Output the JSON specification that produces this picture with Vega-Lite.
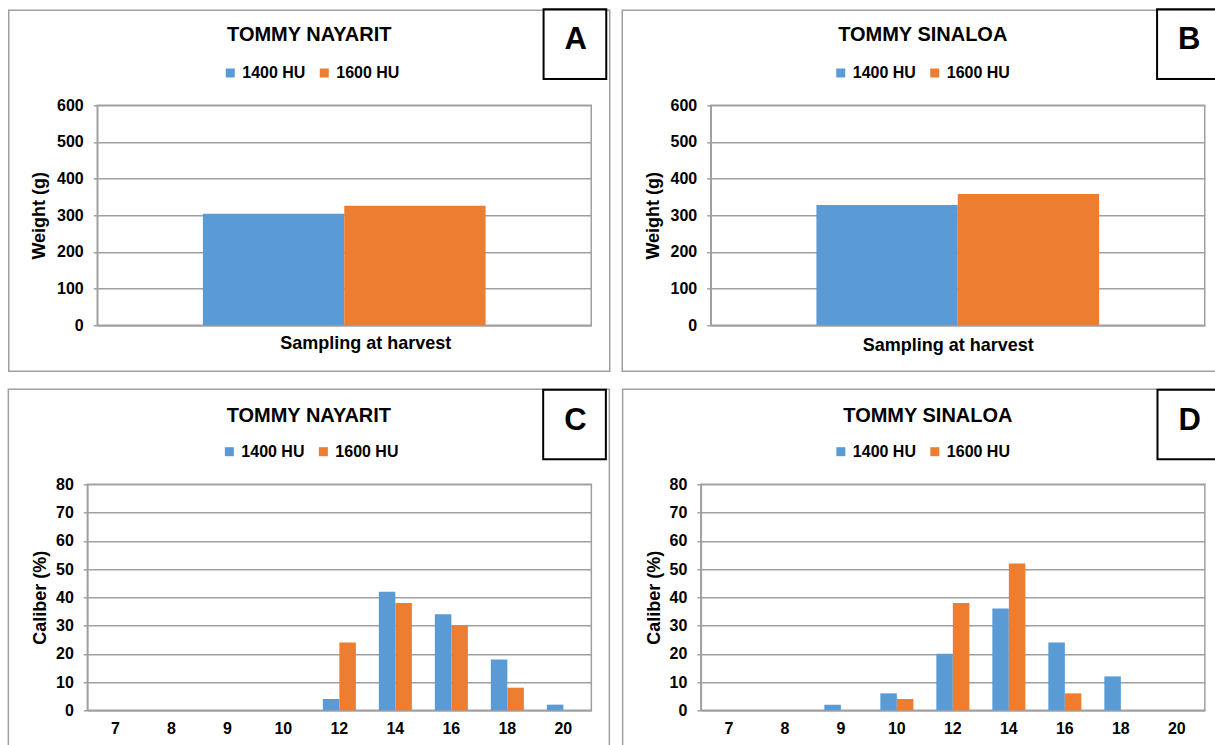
{
  "$schema": "https://vega.github.io/schema/vega-lite/v6.json",
  "padding": {"left": 6, "top": 7.3, "right": 0, "bottom": 0},
  "background": "white",
  "datasets": {
    "weight": [
      {"site": "Nayarit", "HU": "1400 HU", "sampling": "Sampling at harvest", "weight": 304},
      {"site": "Nayarit", "HU": "1600 HU", "sampling": "Sampling at harvest", "weight": 326},
      {"site": "Sinaloa", "HU": "1400 HU", "sampling": "Sampling at harvest", "weight": 328},
      {"site": "Sinaloa", "HU": "1600 HU", "sampling": "Sampling at harvest", "weight": 358}
    ],
    "caliber": [
      {"site": "Nayarit", "HU": "1400 HU", "caliber": 7, "pct": 0},
      {"site": "Nayarit", "HU": "1400 HU", "caliber": 8, "pct": 0},
      {"site": "Nayarit", "HU": "1400 HU", "caliber": 9, "pct": 0},
      {"site": "Nayarit", "HU": "1400 HU", "caliber": 10, "pct": 0},
      {"site": "Nayarit", "HU": "1400 HU", "caliber": 12, "pct": 4},
      {"site": "Nayarit", "HU": "1400 HU", "caliber": 14, "pct": 42},
      {"site": "Nayarit", "HU": "1400 HU", "caliber": 16, "pct": 34},
      {"site": "Nayarit", "HU": "1400 HU", "caliber": 18, "pct": 18},
      {"site": "Nayarit", "HU": "1400 HU", "caliber": 20, "pct": 2},
      {"site": "Nayarit", "HU": "1600 HU", "caliber": 7, "pct": 0},
      {"site": "Nayarit", "HU": "1600 HU", "caliber": 8, "pct": 0},
      {"site": "Nayarit", "HU": "1600 HU", "caliber": 9, "pct": 0},
      {"site": "Nayarit", "HU": "1600 HU", "caliber": 10, "pct": 0},
      {"site": "Nayarit", "HU": "1600 HU", "caliber": 12, "pct": 24},
      {"site": "Nayarit", "HU": "1600 HU", "caliber": 14, "pct": 38},
      {"site": "Nayarit", "HU": "1600 HU", "caliber": 16, "pct": 30},
      {"site": "Nayarit", "HU": "1600 HU", "caliber": 18, "pct": 8},
      {"site": "Nayarit", "HU": "1600 HU", "caliber": 20, "pct": 0},
      {"site": "Sinaloa", "HU": "1400 HU", "caliber": 7, "pct": 0},
      {"site": "Sinaloa", "HU": "1400 HU", "caliber": 8, "pct": 0},
      {"site": "Sinaloa", "HU": "1400 HU", "caliber": 9, "pct": 2},
      {"site": "Sinaloa", "HU": "1400 HU", "caliber": 10, "pct": 6},
      {"site": "Sinaloa", "HU": "1400 HU", "caliber": 12, "pct": 20},
      {"site": "Sinaloa", "HU": "1400 HU", "caliber": 14, "pct": 36},
      {"site": "Sinaloa", "HU": "1400 HU", "caliber": 16, "pct": 24},
      {"site": "Sinaloa", "HU": "1400 HU", "caliber": 18, "pct": 12},
      {"site": "Sinaloa", "HU": "1400 HU", "caliber": 20, "pct": 0},
      {"site": "Sinaloa", "HU": "1600 HU", "caliber": 7, "pct": 0},
      {"site": "Sinaloa", "HU": "1600 HU", "caliber": 8, "pct": 0},
      {"site": "Sinaloa", "HU": "1600 HU", "caliber": 9, "pct": 0},
      {"site": "Sinaloa", "HU": "1600 HU", "caliber": 10, "pct": 4},
      {"site": "Sinaloa", "HU": "1600 HU", "caliber": 12, "pct": 38},
      {"site": "Sinaloa", "HU": "1600 HU", "caliber": 14, "pct": 52},
      {"site": "Sinaloa", "HU": "1600 HU", "caliber": 16, "pct": 6},
      {"site": "Sinaloa", "HU": "1600 HU", "caliber": 18, "pct": 0},
      {"site": "Sinaloa", "HU": "1600 HU", "caliber": 20, "pct": 0}
    ]
  },
  "spacing": 14,
  "center": true,
  "resolve": {"scale": {"color": "independent"}, "legend": {"color": "independent"}},
  "vconcat": [
    {
      "spacing": 9.5,
      "resolve": {"scale": {"color": "independent"}, "legend": {"color": "independent"}},
      "hconcat": [
        {
          "width": 494, "height": 220,
          "title": {"text": "TOMMY NAYARIT", "frame": "bounds", "anchor": "middle", "baseline": "alphabetic", "offset": -53},
          "layer": [
            {
              "data": {"name": "weight"},
              "transform": [{"filter": "datum.site === 'Nayarit'"}],
              "mark": {"type": "bar"},
              "encoding": {
                "x": {"field": "sampling", "type": "nominal", "scale": {"paddingInner": 0, "paddingOuter": 0.3737},
                      "axis": {"orient": "bottom", "labels": false, "ticks": false, "grid": false, "title": "Sampling at harvest", "titlePadding": 9, "titleX": 268}},
                "xOffset": {"field": "HU", "type": "nominal"},
                "y": {"field": "weight", "type": "quantitative", "scale": {"domain": [0, 600]},
                      "axis": {"orient": "left", "values": [0, 100, 200, 300, 400, 500, 600], "title": "Weight (g)", "titlePadding": 8}},
                "color": {"field": "HU", "type": "nominal", "scale": {"domain": ["1400 HU", "1600 HU"], "range": ["#5b9bd5", "#ed7d31"]},
                          "legend": {"orient": "none", "legendX": 125, "legendY": -40.3}}
              }
            },
            {
              "data": {"values": [{"letter": "A"}]},
              "layer": [
                {"mark": {"type": "rect", "filled": false, "stroke": "#a0a0a0", "strokeWidth": 1.5},
                 "encoding": {
                   "x": {"datum": 0, "type": "quantitative", "scale": {"domain": [0, 1], "range": [-88.5, 512.5]}, "axis": null},
                   "x2": {"datum": 1},
                   "y": {"datum": 0, "type": "quantitative", "scale": {"domain": [0, 1], "range": [-95, 266]}, "axis": null},
                   "y2": {"datum": 1}}},
                {"mark": {"type": "rect", "filled": false, "stroke": "black", "strokeWidth": 2},
                 "encoding": {"x": {"datum": 0.8899, "type": "quantitative"}, "x2": {"datum": 0.9942}, "y": {"datum": -0.0028, "type": "quantitative"}, "y2": {"datum": 0.19}}},
                {"mark": {"type": "text", "fontSize": 31, "fontWeight": "bold", "baseline": "alphabetic", "align": "center", "color": "black"},
                 "encoding": {"x": {"datum": 0.9434, "type": "quantitative"}, "y": {"datum": 0.108, "type": "quantitative"}, "text": {"field": "letter"}}}
              ]
            }
          ],
          "resolve": {"scale": {"x": "independent", "y": "independent", "xOffset": "independent"}}
        },
        {
          "width": 494, "height": 220,
          "title": {"text": "TOMMY SINALOA", "frame": "bounds", "anchor": "middle", "baseline": "alphabetic", "offset": -53},
          "layer": [
            {
              "data": {"name": "weight"},
              "transform": [{"filter": "datum.site === 'Sinaloa'"}],
              "mark": {"type": "bar"},
              "encoding": {
                "x": {"field": "sampling", "type": "nominal", "scale": {"paddingInner": 0, "paddingOuter": 0.3737},
                      "axis": {"orient": "bottom", "labels": false, "ticks": false, "grid": false, "title": "Sampling at harvest", "titlePadding": 11, "titleX": 237}},
                "xOffset": {"field": "HU", "type": "nominal"},
                "y": {"field": "weight", "type": "quantitative", "scale": {"domain": [0, 600]},
                      "axis": {"orient": "left", "values": [0, 100, 200, 300, 400, 500, 600], "title": "Weight (g)", "titlePadding": 8}},
                "color": {"field": "HU", "type": "nominal", "scale": {"domain": ["1400 HU", "1600 HU"], "range": ["#5b9bd5", "#ed7d31"]},
                          "legend": {"orient": "none", "legendX": 122, "legendY": -40.3}}
              }
            },
            {
              "data": {"values": [{"letter": "B"}]},
              "layer": [
                {"mark": {"type": "rect", "filled": false, "stroke": "#a0a0a0", "strokeWidth": 1.5},
                 "encoding": {
                   "x": {"datum": 0, "type": "quantitative", "scale": {"domain": [0, 1], "range": [-88.5, 512.5]}, "axis": null},
                   "x2": {"datum": 1},
                   "y": {"datum": 0, "type": "quantitative", "scale": {"domain": [0, 1], "range": [-95, 266]}, "axis": null},
                   "y2": {"datum": 1}}},
                {"mark": {"type": "rect", "filled": false, "stroke": "black", "strokeWidth": 2},
                 "encoding": {"x": {"datum": 0.8899, "type": "quantitative"}, "x2": {"datum": 0.9942}, "y": {"datum": -0.0028, "type": "quantitative"}, "y2": {"datum": 0.19}}},
                {"mark": {"type": "text", "fontSize": 31, "fontWeight": "bold", "baseline": "alphabetic", "align": "center", "color": "black"},
                 "encoding": {"x": {"datum": 0.9434, "type": "quantitative"}, "y": {"datum": 0.108, "type": "quantitative"}, "text": {"field": "letter"}}}
              ]
            }
          ],
          "resolve": {"scale": {"x": "independent", "y": "independent", "xOffset": "independent"}}
        }
      ]
    },
    {
      "spacing": 9.5,
      "resolve": {"scale": {"color": "independent"}, "legend": {"color": "independent"}},
      "hconcat": [
        {
          "width": 504, "height": 226,
          "title": {"text": "TOMMY NAYARIT", "frame": "bounds", "anchor": "middle", "baseline": "alphabetic", "offset": -53},
          "layer": [
            {
              "data": {"name": "caliber"},
              "transform": [{"filter": "datum.site === 'Nayarit'"}],
              "mark": {"type": "bar"},
              "encoding": {
                "x": {"field": "caliber", "type": "ordinal", "scale": {"paddingInner": 0.41, "paddingOuter": 0.205},
                      "axis": {"orient": "bottom", "labelAngle": 0, "ticks": false, "grid": false, "title": null, "labelPadding": 10}},
                "xOffset": {"field": "HU", "type": "nominal"},
                "y": {"field": "pct", "type": "quantitative", "scale": {"domain": [0, 80]},
                      "axis": {"orient": "left", "values": [0, 10, 20, 30, 40, 50, 60, 70, 80], "title": "Caliber (%)", "titlePadding": 6}},
                "color": {"field": "HU", "type": "nominal", "scale": {"domain": ["1400 HU", "1600 HU"], "range": ["#5b9bd5", "#ed7d31"]},
                          "legend": {"orient": "none", "legendX": 134, "legendY": -40.6}}
              }
            },
            {
              "data": {"values": [{"letter": "C"}]},
              "layer": [
                {"mark": {"type": "rect", "filled": false, "stroke": "#a0a0a0", "strokeWidth": 1.5},
                 "encoding": {
                   "x": {"datum": 0, "type": "quantitative", "scale": {"domain": [0, 1], "range": [-79, 522]}, "axis": null},
                   "x2": {"datum": 1},
                   "y": {"datum": 0, "type": "quantitative", "scale": {"domain": [0, 1], "range": [-95, 266]}, "axis": null},
                   "y2": {"datum": 1}}},
                {"mark": {"type": "rect", "filled": false, "stroke": "black", "strokeWidth": 2},
                 "encoding": {"x": {"datum": 0.8899, "type": "quantitative"}, "x2": {"datum": 0.9942}, "y": {"datum": 0.001, "type": "quantitative"}, "y2": {"datum": 0.194}}},
                {"mark": {"type": "text", "fontSize": 31, "fontWeight": "bold", "baseline": "alphabetic", "align": "center", "color": "black"},
                 "encoding": {"x": {"datum": 0.9434, "type": "quantitative"}, "y": {"datum": 0.113, "type": "quantitative"}, "text": {"field": "letter"}}}
              ]
            }
          ],
          "resolve": {"scale": {"x": "independent", "y": "independent", "xOffset": "independent"}}
        },
        {
          "width": 504, "height": 226,
          "title": {"text": "TOMMY SINALOA", "frame": "bounds", "anchor": "middle", "baseline": "alphabetic", "offset": -53},
          "layer": [
            {
              "data": {"name": "caliber"},
              "transform": [{"filter": "datum.site === 'Sinaloa'"}],
              "mark": {"type": "bar"},
              "encoding": {
                "x": {"field": "caliber", "type": "ordinal", "scale": {"paddingInner": 0.41, "paddingOuter": 0.205},
                      "axis": {"orient": "bottom", "labelAngle": 0, "ticks": false, "grid": false, "title": null, "labelPadding": 10}},
                "xOffset": {"field": "HU", "type": "nominal"},
                "y": {"field": "pct", "type": "quantitative", "scale": {"domain": [0, 80]},
                      "axis": {"orient": "left", "values": [0, 10, 20, 30, 40, 50, 60, 70, 80], "title": "Caliber (%)", "titlePadding": 6}},
                "color": {"field": "HU", "type": "nominal", "scale": {"domain": ["1400 HU", "1600 HU"], "range": ["#5b9bd5", "#ed7d31"]},
                          "legend": {"orient": "none", "legendX": 132, "legendY": -40.6}}
              }
            },
            {
              "data": {"values": [{"letter": "D"}]},
              "layer": [
                {"mark": {"type": "rect", "filled": false, "stroke": "#a0a0a0", "strokeWidth": 1.5},
                 "encoding": {
                   "x": {"datum": 0, "type": "quantitative", "scale": {"domain": [0, 1], "range": [-78.2, 522.8]}, "axis": null},
                   "x2": {"datum": 1.0158},
                   "y": {"datum": 0, "type": "quantitative", "scale": {"domain": [0, 1], "range": [-95, 266]}, "axis": null},
                   "y2": {"datum": 1}}},
                {"mark": {"type": "rect", "filled": false, "stroke": "black", "strokeWidth": 2},
                 "encoding": {"x": {"datum": 0.8899, "type": "quantitative"}, "x2": {"datum": 0.9942}, "y": {"datum": 0.001, "type": "quantitative"}, "y2": {"datum": 0.194}}},
                {"mark": {"type": "text", "fontSize": 31, "fontWeight": "bold", "baseline": "alphabetic", "align": "center", "color": "black"},
                 "encoding": {"x": {"datum": 0.9434, "type": "quantitative"}, "y": {"datum": 0.113, "type": "quantitative"}, "text": {"field": "letter"}}}
              ]
            }
          ],
          "resolve": {"scale": {"x": "independent", "y": "independent", "xOffset": "independent"}}
        }
      ]
    }
  ],
  "config": {
    "font": "Liberation Sans",
    "view": {"stroke": "#a0a0a0", "strokeWidth": 1.5},
    "title": {"font": "Liberation Sans", "fontSize": 20, "fontWeight": "bold", "color": "black"},
    "axis": {
      "labelFont": "Liberation Sans", "labelFontSize": 16, "labelFontWeight": "bold", "labelColor": "black",
      "titleFont": "Liberation Sans", "titleFontSize": 18, "titleFontWeight": "bold", "titleColor": "black",
      "gridColor": "#a0a0a0", "gridWidth": 1.5, "gridOpacity": 1,
      "domainColor": "#a0a0a0", "domainWidth": 1.5,
      "tickColor": "#a0a0a0", "tickWidth": 1.5, "tickSize": 4, "labelPadding": 10
    },
    "legend": {
      "title": null, "direction": "horizontal", "symbolType": "square", "symbolSize": 81,
      "symbolStrokeWidth": 0, "labelFont": "Liberation Sans", "labelFontSize": 16, "labelFontWeight": "bold",
      "labelColor": "black", "labelOffset": 4, "columnPadding": 10, "padding": 0
    }
  }
}
